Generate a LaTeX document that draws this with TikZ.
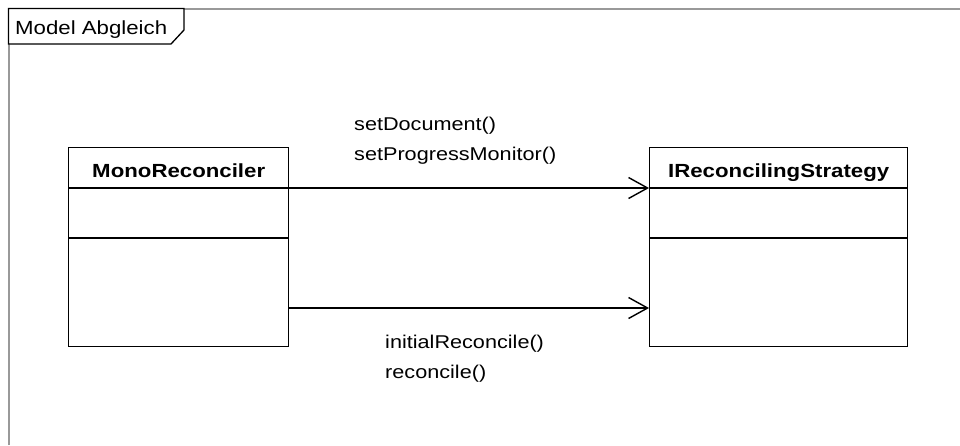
\documentclass[tikz,border=0pt]{standalone}
\usepackage{fontspec}
\setmainfont{Liberation Sans}[FakeStretch=1.17]
\usetikzlibrary{arrows.meta,calc}
\begin{document}
\begin{tikzpicture}[x=1pt,y=-1pt,
  framegray/.style={draw=black!40,line width=2pt},
  framelabel/.style={draw=black,line width=1.3pt},
  classbox/.style={draw=black,line width=1.4pt,anchor=north west,inner sep=0pt,minimum height=199pt},
  classname/.style={anchor=base,inner sep=0pt,font=\fontsize{19}{22}\selectfont\bfseries},
  divider/.style={draw=black,line width=1.4pt},
  msg/.style={anchor=north west,inner sep=0pt,align=left,font=\fontsize{18.5}{30}\selectfont},
  assoc/.style={draw=black,line width=1.4pt,-{Straight Barb[length=19pt,width=21pt,line width=1.4pt]}}]

\useasboundingbox (0,0) rectangle (960,445);

% diagram frame (only its top and left edges fall inside the view)
\draw[framegray] (8.5,445) -- (8.5,8.5) -- (960,8.5);
\draw[framelabel,fill=white] (8.5,8.5) -- (184,8.5) -- (184,30) -- (171,44) -- (8.5,44) -- cycle;
\node[anchor=base west,inner sep=0pt,font=\fontsize{19}{22}\selectfont] (title) at (15,34.5) {Model Abgleich};

% classes
\node[classbox,minimum width=220pt] (mono) at (68,147) {};
\node[classbox,minimum width=258pt] (strat) at (649,147) {};

\node[classname] (mononame) at ($(mono.north)+(0,30)$) {MonoReconciler};
\node[classname] (stratname) at ($(strat.north)+(0,30)$) {IReconcilingStrategy};

\foreach \b in {mono,strat}{
  \draw[divider] ($(\b.north west)+(0,41)$) -- ($(\b.north east)+(0,41)$);
  \draw[divider] ($(\b.north west)+(0,91)$) -- ($(\b.north east)+(0,91)$);
}

% associations
\draw[assoc] ($(mono.north east)+(0,41)$) -- ($(strat.north west)+(0,41)$);
\draw[assoc] ($(mono.north east)+(0,161)$) -- ($(strat.north west)+(0,161)$);

% message labels
\node[msg] (upper) at (354,117) {setDocument()\\setProgressMonitor()};
\node[msg] (lower) at (385,335) {initialReconcile()\\reconcile()};
\end{tikzpicture}
\end{document}
